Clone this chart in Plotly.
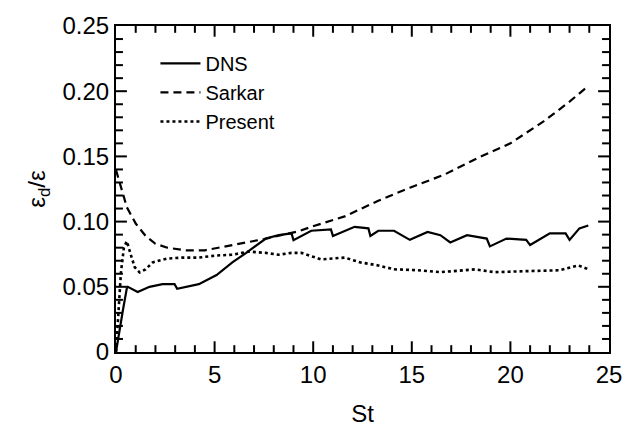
import plotly.graph_objects as go

# ---- data ----
dns_x = [0.0, 0.15, 0.35, 0.55, 0.6, 1.1, 1.7, 2.36, 2.97, 3.1, 4.2, 5.1, 5.9, 6.6, 7.6, 8.25,
         8.9, 9.0, 9.9, 10.9, 11.0, 12.1, 12.8, 12.9, 13.3, 14.1, 14.9, 15.8, 16.45, 16.95,
         17.8, 18.8, 18.96, 19.8, 20.8, 21.0, 22.0, 22.8, 23.0, 23.5, 23.95]
dns_y = [0.0, 0.015, 0.032, 0.049, 0.050, 0.046, 0.050, 0.052, 0.052, 0.0485, 0.052, 0.059,
         0.0687, 0.076, 0.087, 0.0896, 0.091, 0.0858, 0.093, 0.094, 0.089, 0.096, 0.0948,
         0.089, 0.093, 0.093, 0.086, 0.092, 0.0896, 0.084, 0.0896, 0.087, 0.081, 0.087,
         0.086, 0.082, 0.091, 0.091, 0.086, 0.0948, 0.097]

sarkar_x = [0.0, 0.3, 0.55, 1.0, 1.5, 2.0, 2.6, 3.5, 4.5, 5.9, 7.5, 9.25, 9.9, 11.6, 13.3,
            14.9, 16.65, 18.3, 20.0, 21.7, 23.0, 23.95]
sarkar_y = [0.1396, 0.125, 0.111, 0.0985, 0.089, 0.083, 0.080, 0.078, 0.078, 0.082, 0.0866,
            0.0925, 0.096, 0.104, 0.116, 0.126, 0.136, 0.1485, 0.160, 0.177, 0.192, 0.204]

present_x = [0.0, 0.15, 0.25, 0.4, 0.55, 0.75, 0.95, 1.2, 1.5, 1.86, 2.57, 3.37, 4.2, 5.1,
             5.9, 6.74, 7.6, 8.25, 8.9, 9.4, 10.4, 11.6, 12.4, 13.3, 14.1, 15.3, 16.45,
             18.2, 19.2, 20.8, 22.5, 23.45, 23.95]
present_y = [0.0, 0.039, 0.061, 0.080, 0.085, 0.0746, 0.065, 0.061, 0.0634, 0.0687, 0.0716,
             0.0724, 0.0724, 0.074, 0.0746, 0.077, 0.076, 0.0746, 0.076, 0.076, 0.071, 0.0724,
             0.0687, 0.0664, 0.0634, 0.0627, 0.0612, 0.0634, 0.0612, 0.062, 0.0627, 0.0664,
             0.0634]

x_range = [0, 25]
y_range = [0, 0.25]
x_major, x_minor = 5, 1
y_major, y_minor = 0.05, 0.01

FONT = "Liberation Sans, Arial, sans-serif"
W, H = 634, 438
M = dict(l=116, r=21, t=17, b=86)
PLOT_W = W - M["l"] - M["r"]
PLOT_H = H - M["t"] - M["b"]
MAJOR_LEN, MINOR_LEN, TICK_W = 11, 7, 2

fig = go.Figure()
fig.add_trace(go.Scatter(x=dns_x, y=dns_y, mode="lines", name="DNS",
                         line=dict(color="black", width=2.2)))
fig.add_trace(go.Scatter(x=sarkar_x, y=sarkar_y, mode="lines", name="Sarkar",
                         line=dict(color="black", width=2.2, dash="8px,5px")))
fig.add_trace(go.Scatter(x=present_x, y=present_y, mode="lines", name="Present",
                         line=dict(color="black", width=2.6, dash="3px,3px")))

# native inside ticks keep the label layout; the visible tick marks are drawn below
axis_common = dict(showline=True, linecolor="black", linewidth=2, mirror=True,
                   ticks="inside", ticklen=MAJOR_LEN, tickwidth=TICK_W,
                   tickcolor="rgba(0,0,0,0)",
                   showgrid=False, zeroline=False, tickmode="linear",
                   tickfont=dict(family=FONT, size=24, color="black"))

fig.update_xaxes(range=x_range, tick0=0, dtick=x_major,
                 title=dict(text="St", font=dict(family=FONT, size=24, color="black"),
                            standoff=18),
                 **axis_common)
fig.update_yaxes(range=y_range, tick0=0, dtick=y_major, tickformat=".2f",
                 labelalias={"0.00": "0"},
                 title=dict(text="ε<sub>d</sub>/ε", font=dict(family=FONT, size=24, color="black"),
                            standoff=10),
                 **axis_common)

# inside tick marks on all four sides (major and minor), positioned on the axes' scales
tick_line = dict(color="black", width=TICK_W)
x_step_ratio = int(round(x_major / x_minor))
n_x = int(round((x_range[1] - x_range[0]) / x_minor))
for i in range(1, n_x):
    xv = x_range[0] + i * x_minor
    frac = (MAJOR_LEN if i % x_step_ratio == 0 else MINOR_LEN) / PLOT_H
    fig.add_shape(type="line", xref="x", yref="paper", x0=xv, x1=xv, y0=0, y1=frac,
                  line=tick_line, layer="above")
    fig.add_shape(type="line", xref="x", yref="paper", x0=xv, x1=xv, y0=1, y1=1 - frac,
                  line=tick_line, layer="above")
y_step_ratio = int(round(y_major / y_minor))
n_y = int(round((y_range[1] - y_range[0]) / y_minor))
for i in range(1, n_y):
    yv = y_range[0] + i * y_minor
    frac = (MAJOR_LEN if i % y_step_ratio == 0 else MINOR_LEN) / PLOT_W
    fig.add_shape(type="line", xref="paper", yref="y", x0=0, x1=frac, y0=yv, y1=yv,
                  line=tick_line, layer="above")
    fig.add_shape(type="line", xref="paper", yref="y", x0=1, x1=1 - frac, y0=yv, y1=yv,
                  line=tick_line, layer="above")

fig.update_layout(
    width=W, height=H,
    margin=M,
    plot_bgcolor="white", paper_bgcolor="white",
    font=dict(family=FONT, size=22, color="black"),
    legend=dict(x=0.08, y=0.945, xanchor="left", yanchor="top",
                bgcolor="rgba(0,0,0,0)", borderwidth=0,
                font=dict(family=FONT, size=20, color="black"),
                tracegroupgap=0, itemwidth=40),
    showlegend=True,
)

fig.write_html("out.html")
